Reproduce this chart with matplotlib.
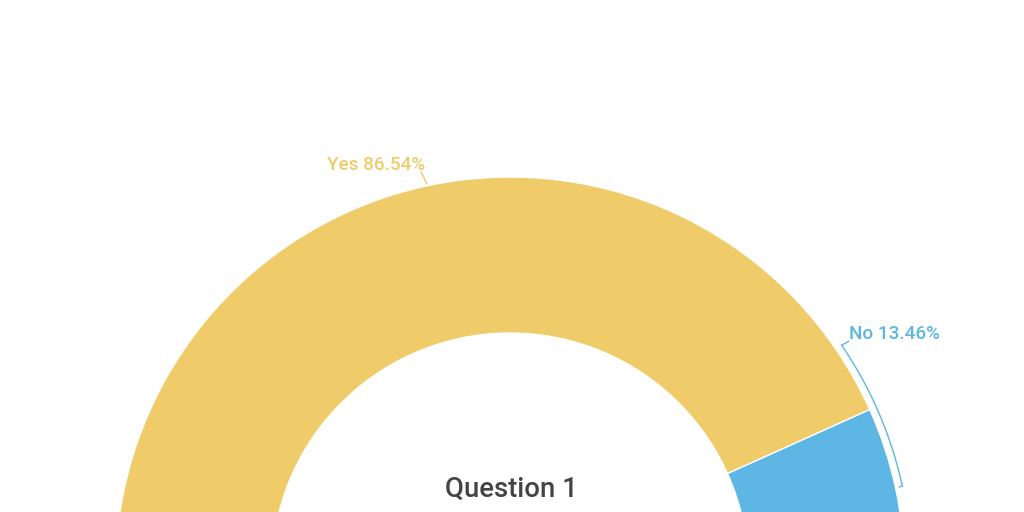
import numpy as np
import matplotlib
matplotlib.use('Agg')
import matplotlib.pyplot as plt

labels = ['Yes', 'No']
values = [86.54, 13.46]
colors = ['#F0CB69', '#5EB6E4']
title = 'Question 1'

plt.rcParams['font.family'] = ['Roboto', 'DejaVu Sans']

W, H = 1024, 512
cx, cy = 510, 512 - 571.5
R, ring = 394.5, 156

fig = plt.figure(figsize=(W / 100, H / 100), dpi=100)
ax = fig.add_axes([0, 0, 1, 1])

# semi-circle donut: pad with an invisible half
wedges, _ = ax.pie(values + [sum(values)], startangle=180, counterclock=False,
                   colors=colors + ['none'], radius=R, center=(cx, cy),
                   wedgeprops=dict(width=ring, edgecolor='white', linewidth=1))
wedges[-1].set_edgecolor('none')

ax.set_xlim(0, W)
ax.set_ylim(0, H)
ax.set_aspect('equal')
ax.axis('off')

# data labels
yes_w, no_w = wedges[0], wedges[1]
mid = (yes_w.theta1 + yes_w.theta2) / 2
a = np.radians(mid)
x0, y0 = cx + (R + 2) * np.cos(a), cy + (R + 2) * np.sin(a)
x1, y1 = cx + (R + 14) * np.cos(a) - 3, cy + (R + 14) * np.sin(a)
ax.plot([x0, x1], [y0, y1], color=colors[0], lw=1)
ax.text(x1 + 4, y1 + 7, '%s %.2f%%' % (labels[0], values[0]), color=colors[0],
        fontsize=13.6, fontweight='medium', ha='right', va='center')

# bracket style connector for the small slice
rb = R + 7
th = np.linspace(np.radians(12.3), np.radians(34.3), 60)
bx, by = cx + rb * np.cos(th), cy + rb * np.sin(th)
ax.plot(bx, by, color=colors[1], lw=1)
ax.plot([bx[0], bx[0] - 3], [by[0], by[0] - 1], color=colors[1], lw=1)
ax.plot([bx[-1], bx[-1] + 7], [by[-1], by[-1] + 4], color=colors[1], lw=1)
ax.text(bx[-1] + 7, by[-1] + 11, '%s %.2f%%' % (labels[1], values[1]),
        color=colors[1], fontsize=13.6, fontweight='medium', ha='left', va='center')

ax.text(cx + 1, 512 - 489, title, color='#444444', fontsize=19.8, fontweight='medium',
        ha='center', va='center')

fig.savefig('out.png', dpi=100)
